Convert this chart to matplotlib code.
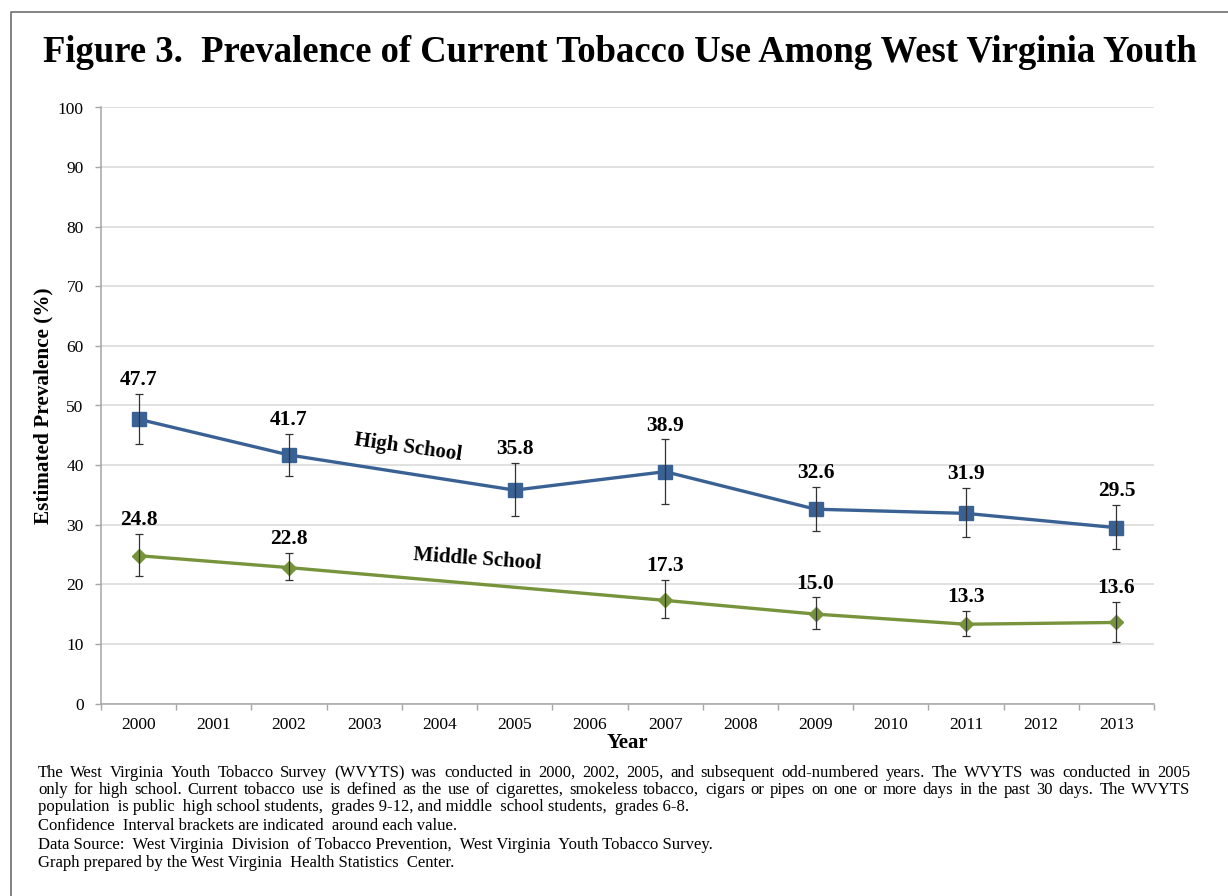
import matplotlib
matplotlib.use("Agg")
import matplotlib.pyplot as plt
from matplotlib.lines import Line2D
from matplotlib.ticker import MultipleLocator, FixedLocator

plt.rcParams["font.family"] = ["Liberation Serif", "DejaVu Serif"]

# data
years = list(range(2000, 2014))
hs_years = [2000, 2002, 2005, 2007, 2009, 2011, 2013]
hs_values = [47.7, 41.7, 35.8, 38.9, 32.6, 31.9, 29.5]
hs_lower = [43.5, 38.2, 31.4, 33.5, 29.0, 27.9, 25.9]
hs_upper = [52.0, 45.3, 40.4, 44.3, 36.4, 36.1, 33.3]

ms_years = [2000, 2002, 2007, 2009, 2011, 2013]
ms_values = [24.8, 22.8, 17.3, 15.0, 13.3, 13.6]
ms_lower = [21.4, 20.7, 14.3, 12.5, 11.4, 10.3]
ms_upper = [28.5, 25.2, 20.7, 17.8, 15.6, 17.0]

title = "Figure 3.  Prevalence of Current Tobacco Use Among West Virginia Youth"
notes = [
    "The West Virginia Youth Tobacco Survey (WVYTS) was conducted in 2000, 2002, 2005, and subsequent odd-numbered years. "
    "The WVYTS was conducted in 2005",
    "only for high school. Current tobacco use is defined as the use of cigarettes, smokeless tobacco, cigars or pipes "
    "on one or more days in the past 30 days. The WVYTS",
    "population  is public  high school students,  grades 9-12, and middle  school students,  grades 6-8.",
    "Confidence  Interval brackets are indicated  around each value.",
    "Data Source:  West Virginia  Division  of Tobacco Prevention,  West Virginia  Youth Tobacco Survey.",
    "Graph prepared by the West Virginia  Health Statistics  Center.",
]
justify = [True, True, False, False, False, False]

HS_COLOR = "#3A6194"
MS_COLOR = "#77933C"
GRID = "#D9D9D9"
AXIS = "#A6A6A6"
W, H = 1228, 896


def draw_series(ax, yrs, vals, lo, hi, color, marker, ms):
    x = [years.index(y) for y in yrs]
    err = [[v - l for v, l in zip(vals, lo)], [h - v for v, h in zip(vals, hi)]]
    ax.plot(x, vals, color=color, lw=2.4, marker=marker, markersize=ms,
            markerfacecolor=color, markeredgecolor=color, zorder=3)
    ax.errorbar(x, vals, yerr=err, fmt="none", ecolor="#333333",
                elinewidth=0.9, capsize=3, capthick=0.9, zorder=4)
    for xi, v, h in zip(x, vals, hi):
        ax.annotate(f"{v:.1f}", (xi, h), xytext=(0, 10), textcoords="offset points",
                    ha="center", va="center", fontsize=15.5, fontweight="bold")


def justified_line(fig, text, x0, x1, y, size):
    # spread words evenly between x0 and x1 (pixels), y is the baseline
    r = fig.canvas.get_renderer()
    words = text.split()
    items = [fig.text(0, 1 - y / H, w, ha="left", va="baseline", fontsize=size) for w in words]
    widths = [t.get_window_extent(r).width for t in items]
    gap = (x1 - x0 - sum(widths)) / (len(words) - 1)
    x = x0
    for t, w in zip(items, widths):
        t.set_x(x / W)
        x += w + gap


fig = plt.figure(figsize=(12.28, 8.96), dpi=100)
ax = fig.add_axes([101 / W, 1 - 703.5 / H, (1154 - 101) / W, (703.5 - 107.5) / H])

draw_series(ax, hs_years, hs_values, hs_lower, hs_upper, HS_COLOR, "s", 10)
draw_series(ax, ms_years, ms_values, ms_lower, ms_upper, MS_COLOR, "D", 7.5)

ax.text(3.58, 43.0, "High School", rotation=-8, ha="center", va="center",
        fontsize=15, fontweight="bold")
ax.text(4.5, 24.1, "Middle School", rotation=-4, ha="center", va="center",
        fontsize=15, fontweight="bold")

ax.set_xlim(-0.5, len(years) - 0.5)
ax.set_ylim(0, 100)
ax.yaxis.set_major_locator(MultipleLocator(10))
ax.set_xticks(range(len(years)))
ax.set_xticklabels([str(y) for y in years])
ax.xaxis.set_minor_locator(FixedLocator([i - 0.5 for i in range(len(years) + 1)]))
ax.tick_params(axis="x", which="major", length=0, pad=10, labelsize=12.5)
ax.tick_params(axis="x", which="minor", length=4.5, color=AXIS, width=1)
ax.tick_params(axis="y", length=4.5, color=AXIS, width=1, pad=8, labelsize=12.5)

ax.grid(axis="y", color=GRID, lw=1.1)
ax.set_axisbelow(True)
for side in ["top", "right"]:
    ax.spines[side].set_visible(False)
for side in ["left", "bottom"]:
    ax.spines[side].set_color(AXIS)
    ax.spines[side].set_linewidth(1.1)

ax.set_xlabel("Year", fontsize=15, fontweight="bold", labelpad=0)
ax.set_ylabel("Estimated Prevalence (%)", fontsize=15.3, fontweight="bold", labelpad=3)

fig.text(620 / W, 1 - 52 / H, title, ha="center", va="center",
         fontsize=26.4, fontweight="bold")

note_base = [777, 794, 811, 830, 849, 867]
for txt, yy, just in zip(notes, note_base, justify):
    if just:
        justified_line(fig, txt, 38, 1190, yy, 12)
    else:
        fig.text(38 / W, 1 - yy / H, txt, ha="left", va="baseline", fontsize=12)

# outer frame (top and left edges visible)
fx = 10.7 / W
fy = 1 - 11.7 / H
fig.add_artist(Line2D([fx, fx, 1], [0, fy, fy], transform=fig.transFigure,
                      color="#6E6E6E", lw=1.2))

fig.savefig("out.png", dpi=100)
